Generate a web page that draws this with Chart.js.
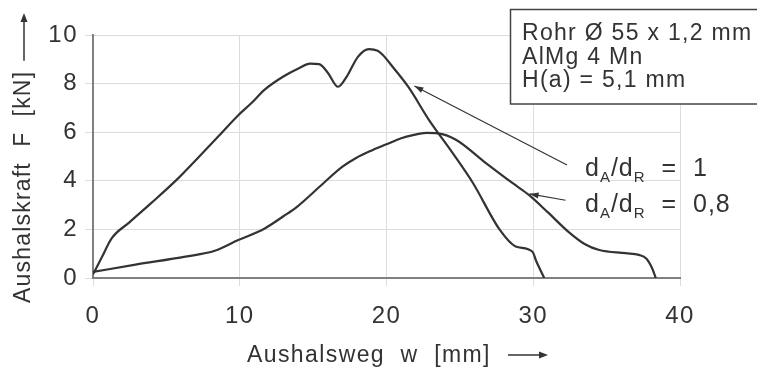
<!DOCTYPE html>
<html>
<head>
<meta charset="utf-8">
<script src="https://cdn.jsdelivr.net/npm/chart.js@4.4.1/dist/chart.umd.min.js"></script>
<style>
  html, body { margin: 0; padding: 0; background: #fff; }
  #wrap { width: 757px; height: 371px; }
</style>
</head>
<body>
<div id="wrap"><canvas id="chart" width="757" height="371"></canvas></div>
<script>
// Aushalsweg w [mm] / Aushalskraft F [kN], d_A/d_R = 1
const wRatio1 = [0, 0.6, 1.27, 2.5, 4, 5.8, 7, 8.5, 9.9, 10.8, 11.7, 13, 14, 14.8, 15.4, 16, 16.7, 17.3, 18.05, 18.8, 19.4, 19.75, 20.5, 21.5, 22.9, 24.5, 25.9, 27.7, 28.8, 29.95, 30.2, 30.75];
const fRatio1 = [0.15, 0.85, 1.63, 2.3, 3.1, 4.1, 4.85, 5.8, 6.7, 7.2, 7.75, 8.3, 8.62, 8.82, 8.8, 8.45, 7.87, 8.3, 9.1, 9.42, 9.35, 9.18, 8.63, 7.85, 6.5, 5.15, 3.9, 2.0, 1.3, 1.08, 0.7, 0.0];

// d_A/d_R = 0,8
const wRatio08 = [0, 2.9, 6.3, 8.3, 9.9, 11.7, 13, 13.9, 15.7, 17, 17.9, 19, 20, 21, 21.8, 22.7, 23.5, 24.7, 26.8, 28.6, 29.7, 31, 32.4, 33.5, 34.5, 36.3, 37.2, 37.7, 38.1, 38.35];
const fRatio08 = [0.25, 0.55, 0.88, 1.12, 1.56, 2.04, 2.55, 2.93, 3.9, 4.58, 4.93, 5.25, 5.5, 5.75, 5.88, 5.97, 5.95, 5.7, 4.72, 3.9, 3.42, 2.7, 1.9, 1.4, 1.15, 1.02, 0.95, 0.8, 0.4, 0.0];

const xTicks = [0, 10, 20, 30, 40];
const yTicks = [0, 2, 4, 6, 8, 10];

const infoLines = ['Rohr Ø 55 x 1,2 mm', 'AlMg 4 Mn', 'H(a) = 5,1 mm'];

// leader lines: [tail, tip] in data units, with the ratio written next to them
const labels = [
  { tail: [32.3, 4.65], tip: [21.9, 7.9], value: '1' },
  { tail: [32.2, 3.2], tip: [29.75, 3.46], value: '0,8' }
];

const FONT = '"Liberation Sans", Arial, sans-serif';
const INK = '#333';

function toPoints(xs, ys) {
  return xs.map((x, i) => ({ x: x, y: ys[i] }));
}

function arrowHead(ctx, x1, y1, x2, y2, len, half) {
  const a = Math.atan2(y2 - y1, x2 - x1);
  ctx.beginPath();
  ctx.moveTo(x2, y2);
  ctx.lineTo(x2 - len * Math.cos(a) + half * Math.sin(a), y2 - len * Math.sin(a) - half * Math.cos(a));
  ctx.lineTo(x2 - len * Math.cos(a) - half * Math.sin(a), y2 - len * Math.sin(a) + half * Math.cos(a));
  ctx.closePath();
  ctx.fill();
}

const decorations = {
  id: 'decorations',
  beforeDraw(chart) {
    chart.ctx.letterSpacing = '1.5px';
  },
  afterDraw(chart) {
    const ctx = chart.ctx;
    const xs = chart.scales.x;
    const ys = chart.scales.y;
    ctx.save();
    ctx.fillStyle = INK;
    ctx.strokeStyle = INK;

    // y axis title with arrow
    ctx.save();
    ctx.translate(24, 303);
    ctx.rotate(-Math.PI / 2);
    ctx.font = '23px ' + FONT;
    ctx.letterSpacing = '1.2px';
    ctx.textBaseline = 'middle';
    ctx.textAlign = 'left';
    const yTitle = 'Aushalskraft  F  [kN]';
    ctx.fillText(yTitle, 0, 0);
    const yw = ctx.measureText(yTitle).width;
    ctx.lineWidth = 1.5;
    ctx.beginPath();
    ctx.moveTo(yw + 10, 0);
    ctx.lineTo(290 - 8, 0);
    ctx.stroke();
    arrowHead(ctx, yw + 10, 0, 290, 0, 9, 3.5);
    ctx.restore();

    // x axis title with arrow
    ctx.save();
    ctx.font = '23px ' + FONT;
    ctx.letterSpacing = '1.4px';
    ctx.textBaseline = 'alphabetic';
    ctx.textAlign = 'left';
    ctx.fillText('Aushalsweg  w  [mm]', 247, 362);
    ctx.lineWidth = 1.5;
    ctx.beginPath();
    ctx.moveTo(508, 355);
    ctx.lineTo(540, 355);
    ctx.stroke();
    arrowHead(ctx, 508, 355, 548, 355, 9, 3.5);
    ctx.restore();

    // info box
    ctx.save();
    ctx.fillStyle = '#fff';
    ctx.fillRect(510, 9, 260, 95);
    ctx.lineWidth = 1.5;
    ctx.strokeStyle = '#444';
    ctx.strokeRect(510.5, 9.5, 260, 94.5);
    ctx.fillStyle = INK;
    ctx.font = '23px ' + FONT;
    ctx.letterSpacing = '1.3px';
    ctx.textBaseline = 'alphabetic';
    infoLines.forEach((t, i) => ctx.fillText(t, 522, 40 + i * 23.5));
    ctx.restore();

    // curve labels with leader lines
    labels.forEach((lb, i) => {
      const tx = xs.getPixelForValue(lb.tail[0]);
      const ty = ys.getPixelForValue(lb.tail[1]);
      const px = xs.getPixelForValue(lb.tip[0]);
      const py = ys.getPixelForValue(lb.tip[1]);
      ctx.lineWidth = 1.2;
      ctx.beginPath();
      ctx.moveTo(tx, ty);
      ctx.lineTo(px, py);
      ctx.stroke();
      arrowHead(ctx, tx, ty, px, py, 9, 3);

      let x = 585;
      const base = i === 0 ? 176 : 212;
      ctx.textBaseline = 'alphabetic';
      ctx.textAlign = 'left';
      const big = '25px ' + FONT;
      const small = '15px ' + FONT;
      ctx.letterSpacing = '1px';
      const parts = [
        ['d', big, 0], ['A', small, 6], ['/d', big, 0], ['R', small, 6], ['  =  ' + lb.value, big, 0]
      ];
      parts.forEach(([s, f, dy]) => {
        ctx.font = f;
        ctx.fillText(s, x, base + dy);
        x += ctx.measureText(s).width;
      });
    });
    ctx.restore();
  }
};

Chart.defaults.font.family = FONT;
Chart.defaults.color = INK;

const lineStyle = {
  showLine: true,
  borderColor: '#333',
  borderWidth: 2.2,
  pointRadius: 0,
  cubicInterpolationMode: 'monotone'
};

new Chart(document.getElementById('chart'), {
  type: 'scatter',
  data: {
    datasets: [
      Object.assign({ label: 'd_A/d_R = 1', data: toPoints(wRatio1, fRatio1) }, lineStyle),
      Object.assign({ label: 'd_A/d_R = 0,8', data: toPoints(wRatio08, fRatio08) }, lineStyle)
    ]
  },
  options: {
    responsive: false,
    animation: false,
    layout: { padding: { top: 35, right: 77, left: 0, bottom: 0 } },
    plugins: {
      legend: { display: false },
      tooltip: { enabled: false }
    },
    scales: {
      x: {
        type: 'linear',
        min: xTicks[0],
        max: xTicks[xTicks.length - 1],
        afterFit(scale) { scale.height = 93; },
        afterBuildTicks(scale) { scale.ticks = xTicks.map(v => ({ value: v })); },
        ticks: { font: { size: 24 }, padding: 16, color: INK },
        grid: { color: '#dcdcdc', lineWidth: 1, tickLength: 8 },
        border: { color: '#808080', width: 2 }
      },
      y: {
        type: 'linear',
        min: yTicks[0],
        max: yTicks[yTicks.length - 1],
        afterFit(scale) { scale.width = 93; },
        afterBuildTicks(scale) { scale.ticks = yTicks.map(v => ({ value: v })); },
        ticks: { font: { size: 24 }, padding: 7, color: INK },
        grid: { color: '#dcdcdc', lineWidth: 1, tickLength: 8 },
        border: { color: '#808080', width: 2 }
      }
    }
  },
  plugins: [decorations]
});
</script>
</body>
</html>
